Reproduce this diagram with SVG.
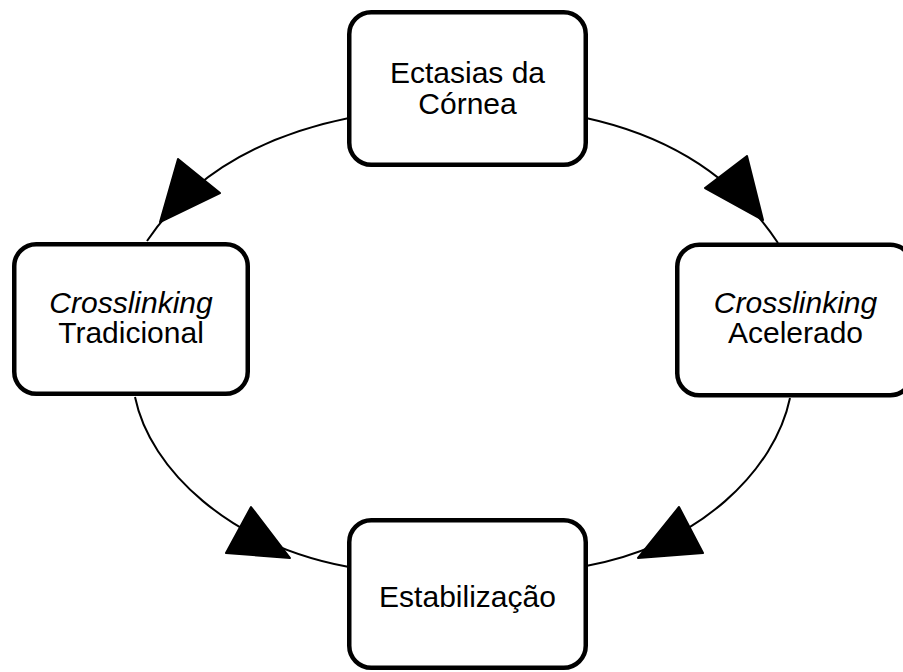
<svg xmlns="http://www.w3.org/2000/svg" width="903" height="672" viewBox="0 0 903 672">
  <style>
    .box { fill: #ffffff; stroke: #000000; stroke-width: 4.5; }
    .link { fill: none; stroke: #000000; stroke-width: 2; }
    .head { fill: #000000; stroke: #000000; stroke-width: 2; stroke-linejoin: round; }
    .label { font-family: "Liberation Sans", Arial, sans-serif; font-size: 30px; fill: #000000; text-anchor: middle; }
    .em { font-style: italic; }
  </style>

  <!-- curved connectors with their arrowheads -->
  <g id="connectors">
    <path class="link" d="M349,118 Q211,146 147,241"/>
    <polygon class="head" points="178,159 220,193 160,222"/>

    <path class="link" d="M586,118 Q714,146 778,243"/>
    <polygon class="head" points="747,156 705,188 763,220"/>

    <path class="link" d="M135,397 C150,470 230,545 349,567"/>
    <polygon class="head" points="251,507 226,553 290,558"/>

    <path class="link" d="M790,398 C775,470 700,545 586,566"/>
    <polygon class="head" points="679,507 703,553 638,558"/>
  </g>

  <g id="node-ectasias">
    <rect class="box" x="349.25" y="12.25" width="236.5" height="152.5" rx="22"/>
    <text class="label" x="467.5" y="83">Ectasias da</text>
    <text class="label" x="467.5" y="114">Córnea</text>
  </g>

  <g id="node-tradicional">
    <rect class="box" x="14.25" y="244.25" width="233.5" height="149.5" rx="22"/>
    <text class="label em" x="131" y="313">Crosslinking</text>
    <text class="label" x="131" y="343">Tradicional</text>
  </g>

  <g id="node-acelerado">
    <rect class="box" x="677.25" y="244.75" width="235" height="150.5" rx="22"/>
    <text class="label em" x="795.5" y="313">Crosslinking</text>
    <text class="label" x="795.5" y="343">Acelerado</text>
  </g>

  <g id="node-estabilizacao">
    <rect class="box" x="349.25" y="520.25" width="236.5" height="147.5" rx="22"/>
    <text class="label" x="467.5" y="607">Estabilização</text>
  </g>
</svg>
